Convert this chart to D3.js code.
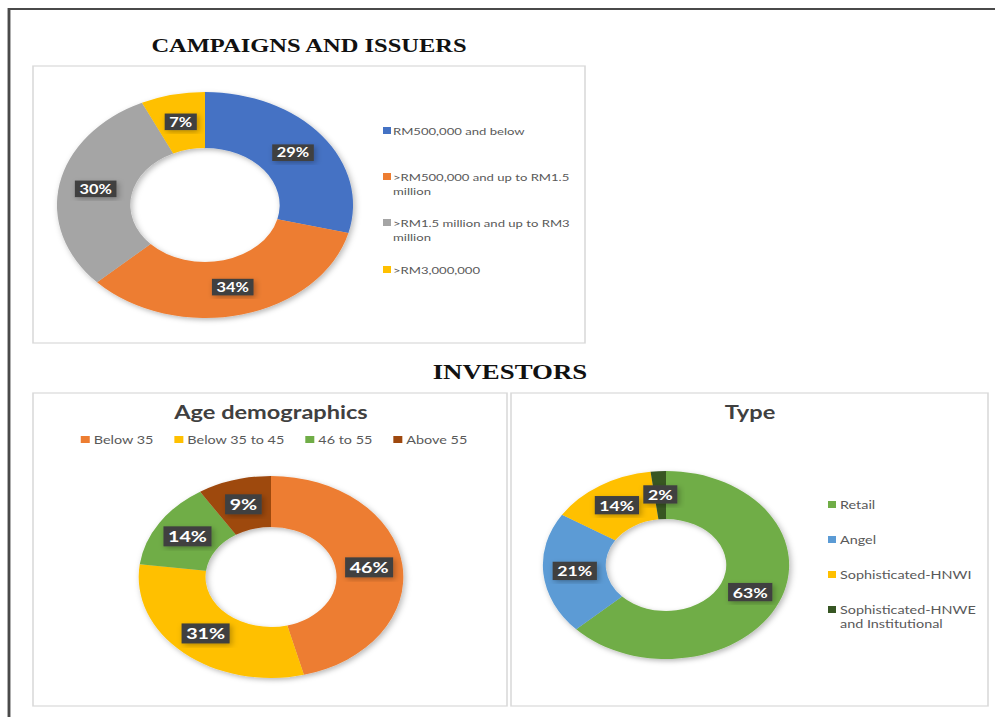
<!DOCTYPE html>
<html>
<head>
<meta charset="utf-8">
<script src="https://cdn.jsdelivr.net/npm/d3@7"></script>
<style>
  body { margin: 0; background: #fff; }
  svg { display: block; }
</style>
</head>
<body>
<script>
//chart data
var campaignCats = ["RM500,000 and below", ">RM500,000 and up to RM1.5 million", ">RM1.5 million and up to RM3 million", ">RM3,000,000"];
var campaignVals = [29, 34, 30, 7];
var campaignColors = ["#4472C4", "#ED7D31", "#A5A5A5", "#FFC000"];

var ageCats = ["Below 35", "Below 35 to 45", "46 to 55", "Above 55"];
var ageVals = [46, 31, 14, 9];
var ageColors = ["#ED7D31", "#FFC000", "#70AD47", "#9E480E"];

var typeCats = ["Retail", "Angel", "Sophisticated-HNWI", "Sophisticated-HNWE and Institutional"];
var typeVals = [63, 21, 14, 2];
var typeColors = ["#70AD47", "#5B9BD5", "#FFC000", "#375623"];

window.onload = function(){
    var width = 995,
        height = 717;
    //the picture is stretched sideways, so everything is drawn in a narrower frame and scaled
    var SX = 1.31;
    var X = function(v){ return v / SX; };

    var svg = d3.select("body")
        .append("svg")
        .attr("width", width)
        .attr("height", height);

    var defs = svg.append("defs");
    defs.append("filter")
        .attr("id", "shadow")
        .attr("x", "-20%").attr("y", "-20%")
        .attr("width", "140%").attr("height", "140%")
        .append("feDropShadow")
        .attr("dx", 1.5).attr("dy", 2)
        .attr("stdDeviation", 2.5)
        .attr("flood-color", "#000")
        .attr("flood-opacity", 0.28);

    var root = svg.append("g")
        .attr("transform", "scale(" + SX + ",1)");

    //outer frame (top and left edges only)
    root.append("path")
        .attr("d", "M" + X(9) + "," + height + "V9H" + X(width + 5))
        .attr("fill", "none")
        .attr("stroke", "#4a4a4a")
        .attr("stroke-width", 2.2);

    //chart boxes
    var boxes = [
        [33, 66, 585, 343],
        [33, 393, 507, 706],
        [511, 393, 988, 706]
    ];
    root.selectAll(".box")
        .data(boxes)
        .enter()
        .append("rect")
        .attr("class", "box")
        .attr("x", function(d){ return X(d[0]); })
        .attr("y", function(d){ return d[1]; })
        .attr("width", function(d){ return X(d[2] - d[0]); })
        .attr("height", function(d){ return d[3] - d[1]; })
        .attr("fill", "#fff")
        .attr("stroke", "#d9d9d9")
        .attr("stroke-width", 1.2);

    //section headings
    root.append("text")
        .attr("x", X(309)).attr("y", 52)
        .attr("text-anchor", "middle")
        .style("font", "bold 18.7px 'Liberation Serif', serif")
        .attr("fill", "#111")
        .text("CAMPAIGNS AND ISSUERS");
    root.append("text")
        .attr("x", X(510)).attr("y", 379)
        .attr("text-anchor", "middle")
        .style("font", "bold 20.5px 'Liberation Serif', serif")
        .attr("fill", "#111")
        .text("INVESTORS");

    //chart titles
    root.append("text")
        .attr("x", X(271)).attr("y", 419)
        .attr("text-anchor", "middle")
        .style("font", "bold 18px Lato, sans-serif")
        .attr("fill", "#404040")
        .text("Age demographics");
    root.append("text")
        .attr("x", X(750)).attr("y", 419)
        .attr("text-anchor", "middle")
        .style("font", "bold 18px Lato, sans-serif")
        .attr("fill", "#404040")
        .text("Type");

    //donuts
    drawDonut(X(205), 205, 113, 57, campaignVals, campaignColors, 12.5);
    drawDonut(X(271), 577, 101, 50, ageVals, ageColors, 15);
    drawDonut(X(666), 565, 94, 46, typeVals, typeColors, 13.5);

    //legends on the right side
    vLegend(X(383), X(393), [131, 177, 223, 270], campaignCats, campaignColors, X(185), 10);
    vLegend(X(828), X(840), [505, 540, 575, 610], typeCats, typeColors, X(135), 11);

    //legend on top of the age chart
    hLegend(X(274), 440, ageCats, ageColors);

    function drawDonut(cx, cy, outer, inner, vals, colors, fontSize){
        var pie = d3.pie().sort(null).value(function(d){ return d; });
        var arc = d3.arc().innerRadius(inner).outerRadius(outer);
        var arcs = pie(vals);

        var g = root.append("g")
            .attr("transform", "translate(" + cx + "," + cy + ")");

        g.append("g")
            .attr("filter", "url(#shadow)")
            .selectAll("path")
            .data(arcs)
            .enter()
            .append("path")
            .attr("d", arc)
            .attr("fill", function(d, i){ return colors[i]; });

        var labels = g.selectAll(".lbl")
            .data(arcs)
            .enter()
            .append("g")
            .attr("class", "lbl")
            .attr("transform", function(d){ return "translate(" + arc.centroid(d) + ")"; });

        labels.append("text")
            .attr("text-anchor", "middle")
            .attr("dy", "0.36em")
            .style("font", "bold " + fontSize + "px Lato, sans-serif")
            .attr("fill", "#fff")
            .text(function(d){ return d.data + "%"; });

        labels.each(function(){
            var t = d3.select(this).select("text");
            var b = t.node().getBBox();
            d3.select(this).insert("rect", "text")
                .attr("x", b.x - 3.5)
                .attr("y", b.y - 1)
                .attr("width", b.width + 7)
                .attr("height", b.height + 2)
                .attr("fill", "#404040")
                .attr("filter", "url(#shadow)");
        });
    }

    function vLegend(sqX, txtX, ys, cats, colors, maxW, size){
        var items = root.selectAll(null)
            .data(cats)
            .enter()
            .append("g");

        items.append("rect")
            .attr("x", sqX)
            .attr("y", function(d, i){ return ys[i] - 4; })
            .attr("width", X(8))
            .attr("height", 7)
            .attr("fill", function(d, i){ return colors[i]; });

        items.append("text")
            .attr("x", txtX)
            .attr("y", function(d, i){ return ys[i] + 4; })
            .style("font", size + "px Lato, sans-serif")
            .attr("fill", "#595959")
            .text(function(d){ return d; })
            .each(function(){ wrap(d3.select(this), maxW, 14.5); });
    }

    function hLegend(centerX, y, cats, colors){
        var sq = X(9), gap = X(4), spacing = X(21);
        var g = root.append("g");
        var items = g.selectAll("g")
            .data(cats)
            .enter()
            .append("g");
        items.append("text")
            .attr("y", y + 4)
            .style("font", "11px Lato, sans-serif")
            .attr("fill", "#595959")
            .text(function(d){ return d; });

        var widths = [];
        items.select("text").each(function(){ widths.push(this.getComputedTextLength()); });
        var total = d3.sum(widths) + cats.length * (sq + gap) + (cats.length - 1) * spacing;
        var x = centerX - total / 2;
        items.each(function(d, i){
            var it = d3.select(this);
            it.append("rect")
                .attr("x", x).attr("y", y - 4)
                .attr("width", sq).attr("height", 7)
                .attr("fill", colors[i]);
            it.select("text").attr("x", x + sq + gap);
            x += sq + gap + widths[i] + spacing;
        });
    }

    function wrap(text, maxW, lineH){
        var words = text.text().split(" ");
        var x = text.attr("x"), y = text.attr("y");
        text.text(null);
        var line = [];
        var tspan = text.append("tspan").attr("x", x).attr("y", y);
        var n = 0;
        words.forEach(function(w){
            line.push(w);
            tspan.text(line.join(" "));
            if (tspan.node().getComputedTextLength() > maxW && line.length > 1){
                line.pop();
                tspan.text(line.join(" "));
                line = [w];
                n++;
                tspan = text.append("tspan").attr("x", x).attr("y", +y + n * lineH).text(w);
            }
        });
    }
};
</script>
</body>
</html>
